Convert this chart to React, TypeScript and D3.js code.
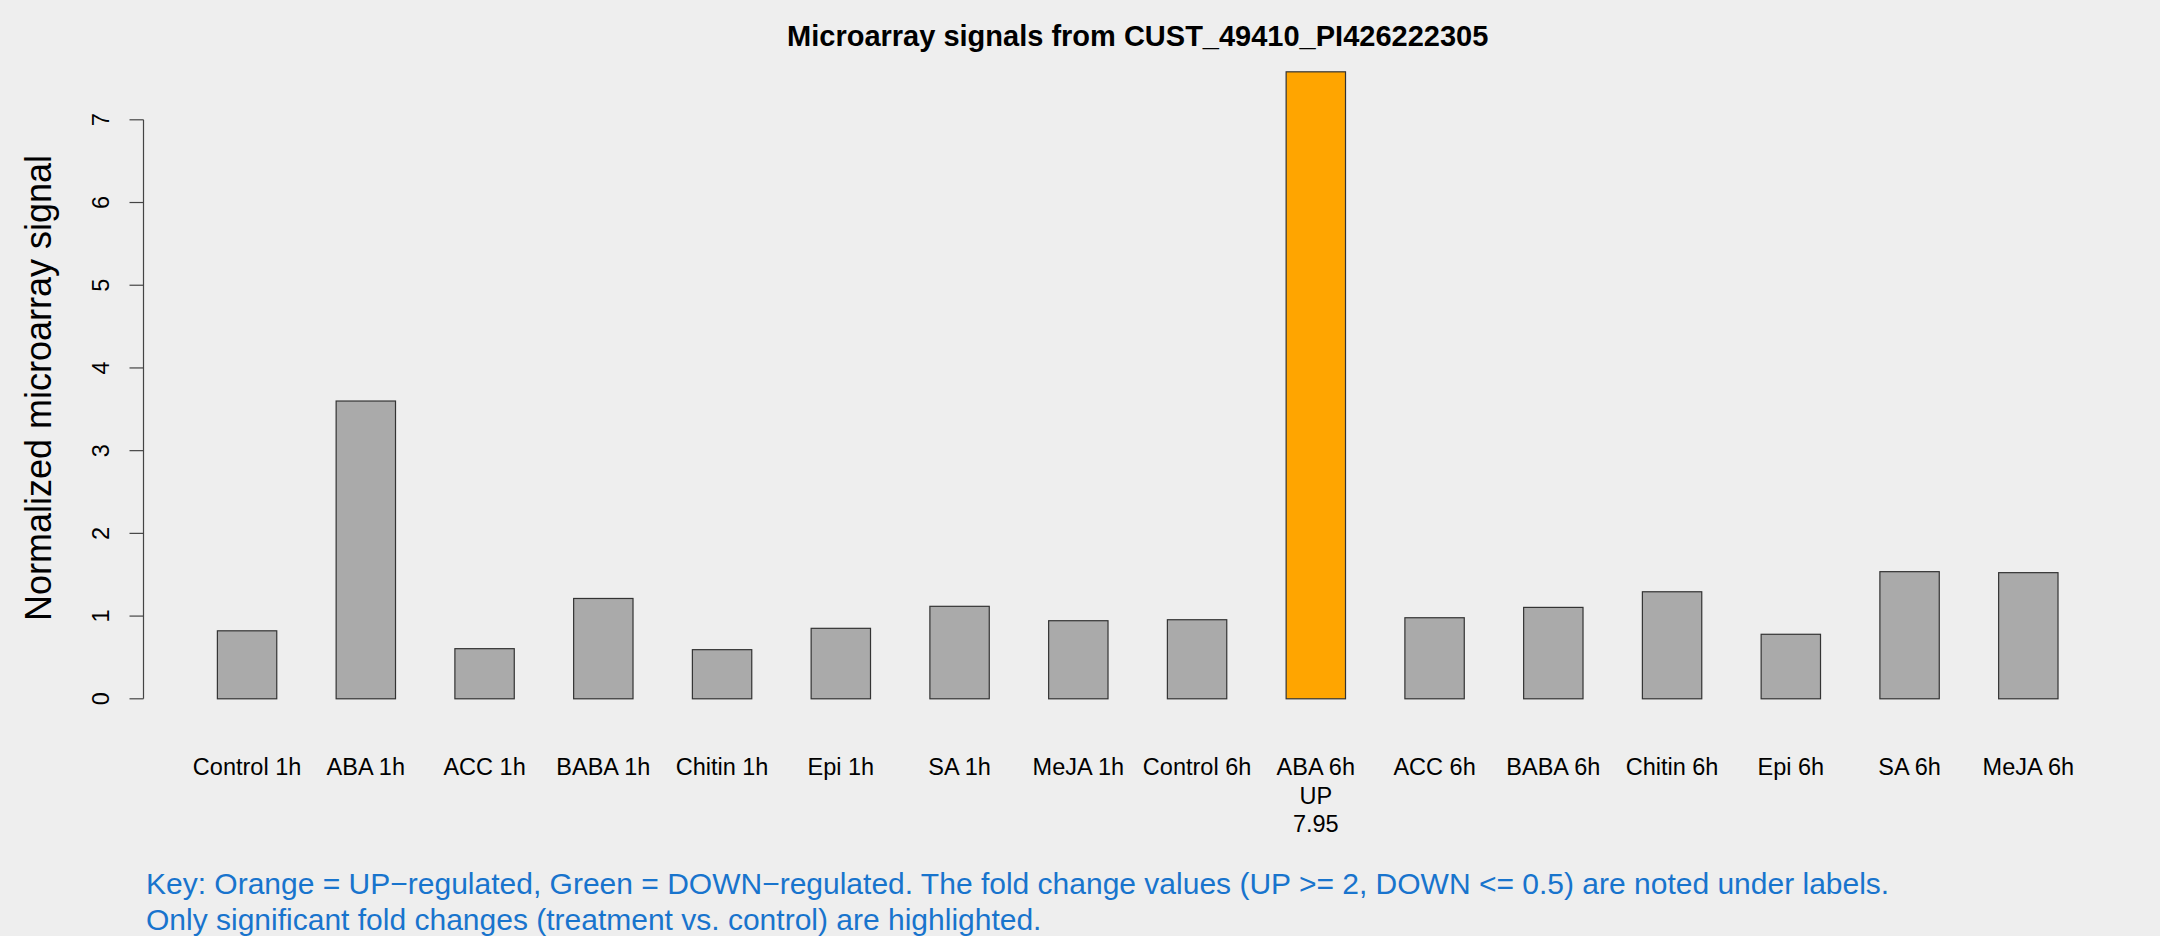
import React from "react";
import * as d3 from "d3";

const categories = [
  "Control 1h", "ABA 1h", "ACC 1h", "BABA 1h", "Chitin 1h", "Epi 1h", "SA 1h", "MeJA 1h",
  "Control 6h", "ABA 6h", "ACC 6h", "BABA 6h", "Chitin 6h", "Epi 6h", "SA 6h", "MeJA 6h",
];
const values = [0.822, 3.6, 0.606, 1.213, 0.594, 0.852, 1.118, 0.944, 0.956, 7.58, 0.98, 1.105, 1.294, 0.78, 1.537, 1.525];
const regulation = ["", "", "", "", "", "", "", "", "", "UP", "", "", "", "", "", ""];
const foldNotes = ["", "", "", "", "", "", "", "", "", "7.95", "", "", "", "", "", ""];
const yTicks = [0, 1, 2, 3, 4, 5, 6, 7];
const title = "Microarray signals from CUST_49410_PI426222305";
const yLabel = "Normalized microarray signal";
const footerLines = [
  "Key: Orange = UP\u2212regulated, Green = DOWN\u2212regulated. The fold change values (UP >= 2, DOWN <= 0.5) are noted under labels.",
  "Only significant fold changes (treatment vs. control) are highlighted.",
];

const W = 2160;
const H = 936;
const FONT = "'Liberation Sans', Arial, Helvetica, sans-serif";

export default function App() {
  const x = d3
    .scaleBand<string>()
    .domain(categories)
    .range([187.7, 2087.7])
    .paddingInner(0.5)
    .paddingOuter(0.25);
  const y = d3.scaleLinear().domain([0, 7]).range([698.8, 119.8]);
  const axisX = 143.5;
  const colorFor = (r: string) => (r === "UP" ? "#FFA500" : r === "DOWN" ? "#2E8B57" : "#AAAAAA");
  const plotCenter = (x(categories[0])! + x(categories[categories.length - 1])! + x.bandwidth()) / 2;

  return (
    <div style={{ position: "fixed", left: 0, top: 0, width: W, height: H }}>
      <svg width={W} height={H} style={{ display: "block" }} fontFamily={FONT}>
        <rect x={0} y={0} width={W} height={H} fill="#EEEEEE" />
        <text x={plotCenter} y={46} textAnchor="middle" fontSize={29} fontWeight="bold" fill="#000">
          {title}
        </text>
        {categories.map((c, i) => (
          <rect
            key={c}
            x={x(c)}
            y={y(values[i])}
            width={x.bandwidth()}
            height={y(0) - y(values[i])}
            fill={colorFor(regulation[i])}
            stroke="#333"
            strokeWidth={1.2}
          />
        ))}
        <line x1={axisX} x2={axisX} y1={y(0)} y2={y(7)} stroke="#444" strokeWidth={1.2} />
        {yTicks.map((t) => (
          <g key={t}>
            <line x1={axisX - 14} x2={axisX} y1={y(t)} y2={y(t)} stroke="#444" strokeWidth={1.2} />
            <text
              transform={`translate(109,${y(t)}) rotate(-90)`}
              textAnchor="middle"
              fontSize={23.5}
              fill="#000"
            >
              {t}
            </text>
          </g>
        ))}
        <text
          transform={`translate(51,388) rotate(-90)`}
          textAnchor="middle"
          fontSize={36}
          fill="#000"
        >
          {yLabel}
        </text>
        {categories.map((c, i) => {
          const cx = x(c)! + x.bandwidth() / 2;
          return (
            <text key={c} x={cx} y={775} textAnchor="middle" fontSize={23.5} fill="#000">
              <tspan x={cx}>{c}</tspan>
              {regulation[i] && (
                <tspan x={cx} dy={28.5}>
                  {regulation[i]}
                </tspan>
              )}
              {foldNotes[i] && (
                <tspan x={cx} dy={28.5}>
                  {foldNotes[i]}
                </tspan>
              )}
            </text>
          );
        })}
        {footerLines.map((l, i) => (
          <text key={i} x={146} y={894 + i * 36} fontSize={30} fill="#1874CD">
            {l}
          </text>
        ))}
      </svg>
    </div>
  );
}
